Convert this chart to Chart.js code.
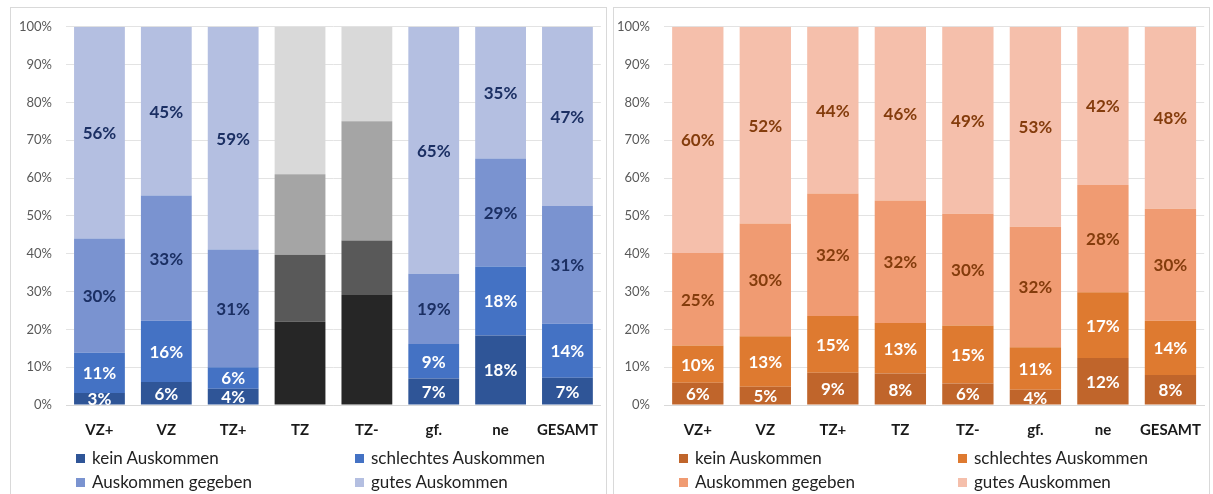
<!DOCTYPE html>
<html>
<head>
<meta charset="utf-8">
<script src="https://cdn.jsdelivr.net/npm/chart.js@4.4.1/dist/chart.umd.min.js"></script>
<style>
  body { margin: 0; background: #fff; font-family: Lato, sans-serif; }
  .panel { position: absolute; top: 7px; width: 597px; height: 500px; border: 1px solid #d9d9d9; box-sizing: border-box; }
  .box { position: absolute; top: -3px; height: 446px; }
  .legend { position: absolute; top: 440px; left: 0; width: 100%; font-size: 17px; color: #222; }
  .item { position: absolute; height: 20px; line-height: 20px; white-space: nowrap; }
  .item span { display: inline-block; width: 9px; height: 9px; margin-right: 7px; vertical-align: 1px; }
</style>
</head>
<body>
<div class="panel" style="left:10px">
  <div class="box" style="left:-6px;width:601px"><canvas id="chartLeft"></canvas></div>
  <div class="legend" id="legendLeft"></div>
</div>
<div class="panel" style="left:613px">
  <div class="box" style="left:-11px;width:606px"><canvas id="chartRight"></canvas></div>
  <div class="legend" id="legendRight"></div>
</div>
<script>
const categories = ['VZ+', 'VZ', 'TZ+', 'TZ', 'TZ-', 'gf.', 'ne', 'GESAMT'];
const seriesNames = ['kein Auskommen', 'schlechtes Auskommen', 'Auskommen gegeben', 'gutes Auskommen'];
const greyCategories = ['TZ', 'TZ-'];

// linke Grafik (blau), TZ und TZ- grau ohne Beschriftung
const leftKein      = [3.2, 6.1, 4.3, 22.0, 29.1, 7.0, 18.4, 7.2];
const leftSchlecht  = [10.6, 16.2, 5.7, 17.7, 14.4, 9.1, 18.2, 14.3];
const leftGegeben   = [30.2, 33.1, 31.1, 21.3, 31.5, 18.6, 28.6, 31.1];
const leftGutes     = [56.0, 44.6, 58.9, 39.0, 25.0, 65.3, 34.8, 47.4];

// rechte Grafik (orange)
const rightKein     = [5.9, 4.8, 8.5, 8.3, 5.7, 4.0, 12.4, 7.9];
const rightSchlecht = [9.8, 13.4, 15.0, 13.4, 15.3, 11.3, 17.4, 14.4];
const rightGegeben  = [24.5, 29.8, 32.4, 32.4, 29.6, 31.8, 28.4, 29.6];
const rightGutes    = [59.8, 52.0, 44.1, 45.9, 49.4, 52.9, 41.8, 48.1];

const blueColors  = ['#2f5597', '#4472c4', '#7a93d0', '#b4bfe1'];
const greyColors  = ['#262626', '#595959', '#a5a5a5', '#d9d9d9'];
const orangeColors = ['#c0652b', '#de7a30', '#f09b72', '#f5bfab'];
const blueText   = ['#ffffff', '#ffffff', '#1b2f63', '#1b2f63'];
const orangeText = ['#ffffff', '#ffffff', '#843c0c', '#843c0c'];

const segmentLabels = {
  id: 'segmentLabels',
  afterDatasetsDraw(chart, args, opts) {
    const ctx = chart.ctx;
    ctx.save();
    ctx.font = 'bold 17px Lato';
    ctx.textAlign = 'center';
    ctx.textBaseline = 'middle';
    chart.data.datasets.forEach((ds, i) => {
      const meta = chart.getDatasetMeta(i);
      meta.data.forEach((bar, j) => {
        if (opts.skip.includes(chart.data.labels[j])) return;
        ctx.fillStyle = opts.colors[i];
        ctx.fillText(Math.round(ds.data[j]) + '%', bar.x, (bar.y + bar.base) / 2 + 1);
      });
    });
    ctx.restore();
  }
};

function makeChart(id, legendId, series, colors, textColors, skip) {
  const datasets = series.map((data, i) => ({
    label: seriesNames[i],
    data: data,
    backgroundColor: categories.map(c => skip.includes(c) ? greyColors[i] : colors[i]),
    barPercentage: 0.76,
    categoryPercentage: 1
  }));
  new Chart(document.getElementById(id), {
    type: 'bar',
    data: { labels: categories, datasets: datasets },
    plugins: [segmentLabels],
    options: {
      responsive: true,
      maintainAspectRatio: false,
      animation: false,
      layout: { padding: { top: 1, right: 0, left: 0, bottom: 4 } },
      plugins: {
        legend: { display: false },
        tooltip: { enabled: false },
        segmentLabels: { colors: textColors, skip: skip }
      },
      scales: {
        x: {
          stacked: true,
          grid: { display: false },
          border: { color: '#d9d9d9' },
          ticks: { color: '#1a1a1a', font: { family: 'Lato', size: 15, weight: 'bold' }, padding: 8, maxRotation: 0, autoSkip: false }
        },
        y: {
          stacked: true,
          min: 0,
          max: 100,
          border: { display: false },
          grid: { color: '#e3e3e3', drawTicks: false },
          ticks: { stepSize: 10, callback: v => v + '%', color: '#595959', font: { family: 'Lato', size: 13 }, padding: 14 }
        }
      }
    }
  });

  const legend = document.getElementById(legendId);
  const pos = [[65, 0], [344, 0], [65, 24], [344, 24]];
  datasets.forEach((ds, i) => {
    const el = document.createElement('div');
    el.className = 'item';
    el.style.left = pos[i][0] + 'px';
    el.style.top = pos[i][1] + 'px';
    el.innerHTML = '<span style="background:' + colors[i] + '"></span>' + ds.label;
    legend.appendChild(el);
  });
}

makeChart('chartLeft', 'legendLeft', [leftKein, leftSchlecht, leftGegeben, leftGutes], blueColors, blueText, greyCategories);
makeChart('chartRight', 'legendRight', [rightKein, rightSchlecht, rightGegeben, rightGutes], orangeColors, orangeText, []);
</script>
</body>
</html>
